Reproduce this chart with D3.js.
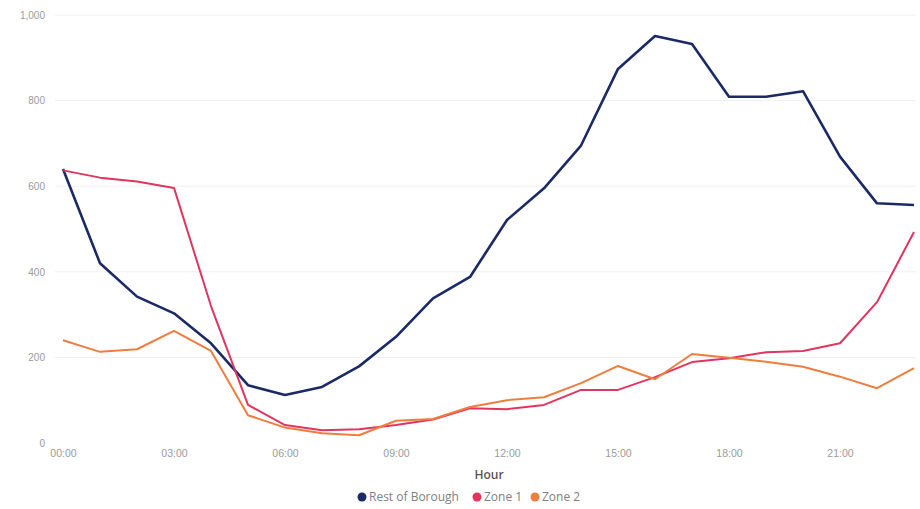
<!DOCTYPE html>
<html><head><meta charset="utf-8">
<script src="https://cdn.jsdelivr.net/npm/d3@7"></script>
<style>body{margin:0;background:#fff;} svg{display:block;font-family:"Open Sans","Noto Sans",sans-serif;}</style>
</head><body>
<svg id="c" width="920" height="509"></svg>
<script>
const hours = d3.range(0, 24);
const xTickHours = [0, 3, 6, 9, 12, 15, 18, 21];
const yTicks = [0, 200, 400, 600, 800, 1000];
const seriesNames = ["Rest of Borough", "Zone 1", "Zone 2"];
const seriesColors = ["#1b2a66", "#e1355f", "#ee7d3f"];
const restOfBorough = [640, 420, 342, 303, 233, 135, 112, 131, 179, 248, 338, 388, 521, 595, 695, 874, 951, 932, 809, 809, 822, 669, 560, 556];
const zone1 = [637, 620, 611, 596, 320, 89, 42, 30, 32, 42, 55, 81, 79, 89, 124, 124, 154, 189, 198, 212, 215, 233, 329, 493];
const zone2 = [240, 213, 219, 262, 215, 65, 36, 23, 18, 52, 56, 84, 100, 107, 140, 180, 149, 208, 199, 190, 178, 155, 128, 175];
const allSeries = [restOfBorough, zone1, zone2];

const svg = d3.select("#c");
const x = d3.scaleLinear().domain([0, 23]).range([63, 914]);
const y = d3.scaleLinear().domain([0, 1000]).range([443, 15]);

// gridlines
svg.append("g").selectAll("line").data(yTicks.filter(d => d > 0)).join("line")
  .attr("x1", 55).attr("x2", 916)
  .attr("y1", d => y(d)).attr("y2", d => y(d))
  .attr("stroke", "#f0f0f0").attr("stroke-width", 1);

// y axis
const yAxis = d3.axisLeft(y).tickValues(yTicks).tickSize(0).tickPadding(0).tickFormat(d3.format(","));
const gy = svg.append("g").attr("transform", "translate(45,0)").call(yAxis);
gy.select(".domain").remove();
gy.selectAll("text").attr("fill", "#9a9a9a").style("font-size", "10px");

// x axis
const fmtHour = h => String(h).padStart(2, "0") + ":00";
const xAxis = d3.axisBottom(x).tickValues(xTickHours).tickSize(0).tickPadding(0).tickFormat(fmtHour);
const gx = svg.append("g").attr("transform", "translate(0,450)").call(xAxis);
gx.select(".domain").remove();
gx.selectAll("text").attr("fill", "#9a9a9a").style("font-size", "10.5px");

svg.append("text").attr("x", 489).attr("y", 479).attr("text-anchor", "middle")
  .attr("fill", "#555").style("font-size", "12px").style("font-weight", "600").text("Hour");

// lines
const line = d3.line().x((d, i) => x(hours[i])).y(d => y(d));
svg.append("g").selectAll("path").data(allSeries).join("path")
  .attr("d", d => line(d)).attr("fill", "none")
  .attr("stroke", (d, i) => seriesColors[i])
  .attr("stroke-width", (d, i) => i === 0 ? 2.6 : 2)
  .attr("stroke-linejoin", "round");

// legend
const legendX = [362, 477, 535];
const lg = svg.append("g");
seriesNames.forEach((n, i) => {
  lg.append("circle").attr("cx", legendX[i]).attr("cy", 497).attr("r", 4.5).attr("fill", seriesColors[i]);
  lg.append("text").attr("x", legendX[i] + 7).attr("y", 501).attr("fill", "#808080")
    .style("font-size", "12px").text(n);
});
</script>
</body></html>
